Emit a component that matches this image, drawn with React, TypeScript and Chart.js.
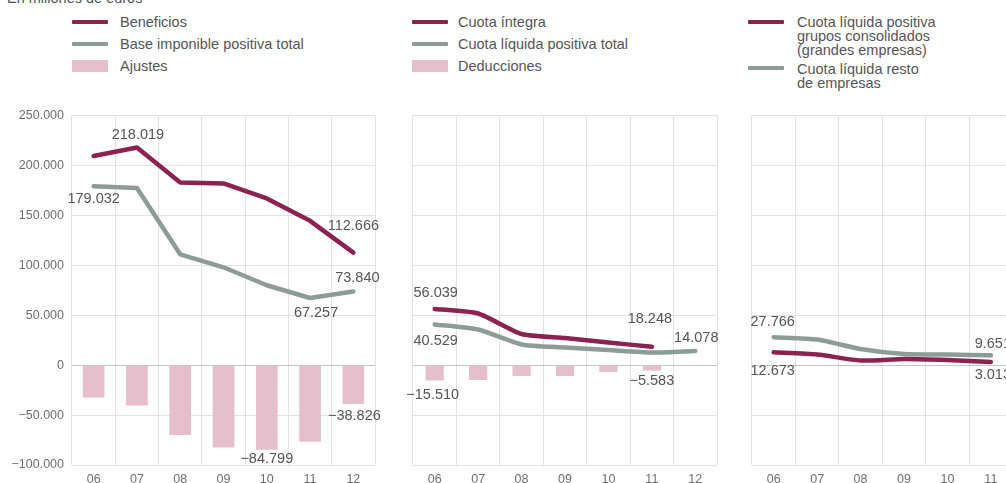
import React, { useEffect, useRef } from 'react';
import { Chart, registerables } from 'chart.js';

Chart.register(...registerables);

// ---------- data ----------
const years = ['06', '07', '08', '09', '10', '11', '12'];

const beneficios = [209500, 218019, 183000, 182000, 167000, 144500, 112666];
const baseImponible = [179032, 177500, 111000, 98000, 80000, 67257, 73840];
const ajustes = [-32500, -40500, -70000, -82500, -84799, -76800, -38826];

const cuotaIntegra = [56039, 51500, 31000, 27000, 22500, 18248, null];
const cuotaLiquidaTotal = [40529, 35500, 20500, 17500, 15000, 12500, 14078];
const deducciones = [-15510, -15000, -11000, -11000, -7000, -5583, null];

const cuotaGrupos = [12673, 10500, 4500, 6000, 5000, 3013, null];
const cuotaResto = [27766, 25500, 16000, 11000, 10500, 9651, null];

const yMin = -100000;
const yMax = 250000;
const yStep = 50000;

// ---------- styles ----------
const FONT = '"Liberation Sans", Arial, Helvetica, sans-serif';
const RED = '#8c2250';
const GREY = '#8d9c96';
const PINK = '#e6bfcc';
const GRID = '#e3e3e3';
const ZERO = '#c4c4c4';
const TICK = '#6e6e6e';
const LABEL = '#555555';

function fmt(v: number): string {
  const s = Math.abs(Math.round(v)).toString().replace(/\B(?=(\d{3})+(?!\d))/g, '.');
  return (v < 0 ? '\u2212' : '') + s;
}

type Lbl = { ds: number; i: number; dx: number; dy: number };

// value labels (dataset index, point index, offset)
const labels1: Lbl[] = [
  { ds: 0, i: 1, dx: 1, dy: -12 },
  { ds: 1, i: 0, dx: 0, dy: 13 },
  { ds: 0, i: 6, dx: 0, dy: -27 },
  { ds: 1, i: 6, dx: 4, dy: -13 },
  { ds: 1, i: 5, dx: 6, dy: 15 },
  { ds: 2, i: 4, dx: 0, dy: 9 },
  { ds: 2, i: 6, dx: 1, dy: 12 },
];
const labels2: Lbl[] = [
  { ds: 0, i: 0, dx: 1, dy: -16 },
  { ds: 1, i: 0, dx: 1, dy: 17 },
  { ds: 2, i: 0, dx: -2, dy: 14 },
  { ds: 0, i: 5, dx: -2, dy: -28 },
  { ds: 1, i: 6, dx: 1, dy: -13 },
  { ds: 2, i: 5, dx: 0, dy: 10 },
];
const labels3: Lbl[] = [
  { ds: 1, i: 0, dx: -1, dy: -15 },
  { ds: 0, i: 0, dx: -1, dy: 19 },
  { ds: 1, i: 5, dx: 2, dy: -11 },
  { ds: 0, i: 5, dx: 2, dy: 13 },
];

function makeLabelPlugin(items: Lbl[]) {
  return {
    id: 'valueLabels',
    afterDatasetsDraw(chart: any) {
      const ctx = chart.ctx;
      ctx.save();
      ctx.font = `14.5px ${FONT}`;
      ctx.fillStyle = LABEL;
      ctx.textAlign = 'center';
      ctx.textBaseline = 'middle';
      items.forEach((it) => {
        const meta = chart.getDatasetMeta(it.ds);
        const el = meta.data[it.i];
        const v = chart.data.datasets[it.ds].data[it.i];
        if (!el || v == null) return;
        ctx.fillText(fmt(v as number), el.x + it.dx, el.y + it.dy);
      });
      ctx.restore();
    },
  };
}

function lineDs(label: string, data: (number | null)[], color: string, tension: number) {
  return {
    type: 'line',
    label,
    data,
    borderColor: color,
    backgroundColor: color,
    borderWidth: 4.5,
    pointRadius: 0,
    pointHoverRadius: 0,
    fill: false,
    tension,
    borderJoinStyle: 'round',
    borderCapStyle: 'round',
    order: 0,
  };
}

function barDs(label: string, data: (number | null)[], pct: number) {
  return {
    type: 'bar',
    label,
    data,
    backgroundColor: PINK,
    barPercentage: pct,
    categoryPercentage: 1,
    order: 1,
  };
}

function buildConfig(datasets: any[], lbls: Lbl[], yWidth: number, padRight: number, showY: boolean): any {
  return {
    type: 'bar',
    data: { labels: years, datasets },
    options: {
      animation: false,
      responsive: false,
      devicePixelRatio: 1,
      events: [],
      layout: { padding: { top: 15, right: padRight, bottom: 0, left: 0 } },
      plugins: { legend: { display: false }, tooltip: { enabled: false } },
      scales: {
        x: {
          type: 'category',
          offset: true,
          grid: { offset: true, color: GRID, drawTicks: false, lineWidth: 1 },
          border: { display: false },
          ticks: {
            color: TICK,
            font: { family: FONT, size: 12.5 },
            padding: 7,
            maxRotation: 0,
            autoSkip: false,
          },
          afterFit: (s: any) => {
            s.height = 18;
          },
        },
        y: {
          min: yMin,
          max: yMax,
          grid: {
            color: (c: any) => (c.tick && c.tick.value === 0 ? ZERO : GRID),
            drawTicks: false,
            lineWidth: 1,
          },
          border: { display: false },
          ticks: {
            display: showY,
            stepSize: yStep,
            color: TICK,
            font: { family: FONT, size: 12.5 },
            padding: 8,
            callback: (v: any) => fmt(Number(v)),
          },
          afterFit: (s: any) => {
            s.width = yWidth;
          },
        },
      },
    },
    plugins: [makeLabelPlugin(lbls)],
  };
}

function Panel(props: { left: number; top: number; width: number; height: number; build: () => any }) {
  const ref = useRef<HTMLCanvasElement>(null);
  useEffect(() => {
    const chart = new Chart(ref.current as HTMLCanvasElement, props.build());
    return () => chart.destroy();
  }, []);
  return (
    <canvas
      ref={ref}
      width={props.width}
      height={props.height}
      style={{ position: 'absolute', left: props.left, top: props.top, width: props.width, height: props.height }}
    />
  );
}

type LegendItem = { text: string; color: string; kind: 'line' | 'box' };

const legend1: LegendItem[] = [
  { text: 'Beneficios', color: RED, kind: 'line' },
  { text: 'Base imponible positiva total', color: GREY, kind: 'line' },
  { text: 'Ajustes', color: PINK, kind: 'box' },
];
const legend2: LegendItem[] = [
  { text: 'Cuota íntegra', color: RED, kind: 'line' },
  { text: 'Cuota líquida positiva total', color: GREY, kind: 'line' },
  { text: 'Deducciones', color: PINK, kind: 'box' },
];
const legend3: LegendItem[] = [
  { text: 'Cuota líquida positiva\ngrupos consolidados\n(grandes empresas)', color: RED, kind: 'line' },
  { text: 'Cuota líquida resto\nde empresas', color: GREY, kind: 'line' },
];

function Swatch({ item, left, cy }: { item: LegendItem; left: number; cy: number }) {
  const h = item.kind === 'line' ? 4 : 12;
  return (
    <div
      style={{
        position: 'absolute',
        left,
        top: cy - h / 2,
        width: 36,
        height: h,
        background: item.color,
        borderRadius: item.kind === 'line' ? 1 : 0,
      }}
    />
  );
}

function SimpleLegend({ items, swLeft, textLeft }: { items: LegendItem[]; swLeft: number; textLeft: number }) {
  return (
    <>
      {items.map((it, k) => {
        const top = 10.7 + k * 22;
        return (
          <React.Fragment key={k}>
            <Swatch item={it} left={swLeft} cy={top + 11} />
            <div
              style={{
                position: 'absolute',
                left: textLeft,
                top,
                height: 22,
                lineHeight: '22px',
                fontSize: 14.5,
                color: LABEL,
                whiteSpace: 'nowrap',
              }}
            >
              {it.text}
            </div>
          </React.Fragment>
        );
      })}
    </>
  );
}

function MultiLegend({ items, swLeft, textLeft, centers }: { items: LegendItem[]; swLeft: number; textLeft: number; centers: number[] }) {
  return (
    <>
      {items.map((it, k) => (
        <React.Fragment key={k}>
          <Swatch item={it} left={swLeft} cy={centers[k]} />
          <div
            style={{
              position: 'absolute',
              left: textLeft,
              top: centers[k] - 6.3,
              lineHeight: '14px',
              fontSize: 14.5,
              color: LABEL,
              whiteSpace: 'pre-line',
            }}
          >
            {it.text}
          </div>
        </React.Fragment>
      ))}
    </>
  );
}

export default function App() {
  return (
    <div
      style={{
        position: 'fixed',
        left: 0,
        top: 0,
        width: 1006,
        height: 483,
        overflow: 'hidden',
        background: '#ffffff',
        fontFamily: FONT,
      }}
    >
      <div
        style={{
          position: 'absolute',
          left: 7,
          top: -10,
          fontSize: 14.5,
          lineHeight: '16px',
          color: LABEL,
          whiteSpace: 'nowrap',
        }}
      >
        En millones de euros
      </div>

      <SimpleLegend items={legend1} swLeft={72} textLeft={120} />
      <SimpleLegend items={legend2} swLeft={412} textLeft={458} />
      <MultiLegend items={legend3} swLeft={748} textLeft={797} centers={[21.7, 68.3]} />

      <Panel
        left={0}
        top={100}
        width={390}
        height={383}
        build={() =>
          buildConfig(
            [
              lineDs('Beneficios', beneficios, RED, 0),
              lineDs('Base imponible positiva total', baseImponible, GREY, 0),
              barDs('Ajustes', ajustes, 0.5),
            ],
            labels1,
            72,
            15,
            true
          )
        }
      />
      <Panel
        left={400}
        top={100}
        width={330}
        height={383}
        build={() =>
          buildConfig(
            [
              lineDs('Cuota íntegra', cuotaIntegra, RED, 0.2),
              lineDs('Cuota líquida positiva total', cuotaLiquidaTotal, GREY, 0.2),
              barDs('Deducciones', deducciones, 0.42),
            ],
            labels2,
            13,
            13,
            false
          )
        }
      />
      <Panel
        left={740}
        top={100}
        width={330}
        height={383}
        build={() =>
          buildConfig(
            [
              lineDs('Cuota líquida positiva grupos consolidados (grandes empresas)', cuotaGrupos, RED, 0.2),
              lineDs('Cuota líquida resto de empresas', cuotaResto, GREY, 0.2),
            ],
            labels3,
            12,
            14,
            false
          )
        }
      />
    </div>
  );
}
